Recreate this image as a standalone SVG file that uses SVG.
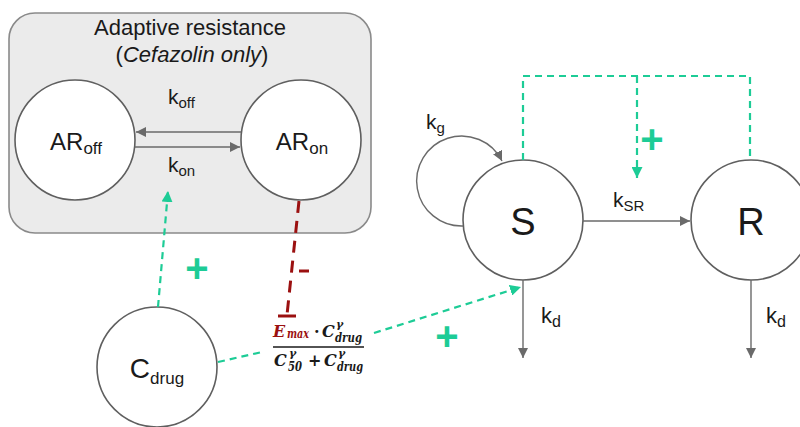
<svg xmlns="http://www.w3.org/2000/svg" width="800" height="427" viewBox="0 0 800 427">
  <style>
    .lbl { font-family: "Liberation Sans", Arial, sans-serif; fill: #1a1a1a; }
    .node { fill: #ffffff; stroke: #5f5f5f; stroke-width: 1.6; }
    .flow { fill: none; stroke: #6a6a6a; stroke-width: 1.4; }
    .act { fill: none; stroke: #1dcc96; stroke-width: 2.2; stroke-dasharray: 7 5; }
    .inh { fill: none; stroke: #9b1010; stroke-width: 3; stroke-dasharray: 12 8; }
    .plus { font-family: "Liberation Sans", Arial, sans-serif; font-weight: bold; font-size: 40px; fill: #1dcc96; }
    .math { font-family: "DejaVu Serif", "Liberation Serif", serif; font-weight: bold; font-style: italic; fill: #1a1a1a; }
  </style>
  <defs>
    <marker id="grayHead" viewBox="0 0 10 10" refX="10" refY="5" markerWidth="10" markerHeight="10" markerUnits="userSpaceOnUse" orient="auto">
      <path d="M0,0 L10,5 L0,10 z" fill="#6a6a6a"/>
    </marker>
    <marker id="greenHead" viewBox="0 0 10 10" refX="10" refY="5" markerWidth="11" markerHeight="11" markerUnits="userSpaceOnUse" orient="auto">
      <path d="M0,0 L10,5 L0,10 z" fill="#1dcc96"/>
    </marker>
  </defs>

  <!-- adaptive resistance compartment -->
  <g id="ar-box">
    <rect x="9" y="13" width="362" height="220" rx="26" ry="26" fill="#ebebeb" stroke="#8a8a8a" stroke-width="1.6"/>
    <text class="lbl" x="190" y="35" font-size="22" text-anchor="middle">Adaptive resistance</text>
    <text class="lbl" x="192" y="62" font-size="22" text-anchor="middle">(<tspan font-style="italic">Cefazolin only</tspan>)</text>
  </g>

  <g id="ar-off">
    <circle class="node" cx="75" cy="140" r="60"/>
    <text class="lbl" x="76" y="150" font-size="24" text-anchor="middle">AR<tspan font-size="17" dy="4">off</tspan></text>
  </g>

  <g id="ar-on">
    <circle class="node" cx="301" cy="140" r="60"/>
    <text class="lbl" x="302" y="150" font-size="24" text-anchor="middle">AR<tspan font-size="17" dy="4">on</tspan></text>
  </g>

  <g id="c-drug">
    <circle class="node" cx="157" cy="367" r="60"/>
    <text class="lbl" x="157" y="378" font-size="28" text-anchor="middle">C<tspan font-size="17" dy="6">drug</tspan></text>
  </g>

  <g id="s">
    <circle class="node" cx="523" cy="220" r="60"/>
    <text class="lbl" x="523" y="235" font-size="38" text-anchor="middle">S</text>
  </g>

  <g id="r">
    <circle class="node" cx="751" cy="220" r="60"/>
    <text class="lbl" x="751" y="235" font-size="38" text-anchor="middle">R</text>
  </g>

  <!-- drug effect term: Emax·C^γ / (C50^γ + C^γ) -->
  <g id="effect">
    <rect x="263" y="320" width="110" height="58" fill="#ffffff"/>
    <text class="math" x="273" y="337" font-size="16"><tspan fill="#9b1010">E<tspan x="287" dy="1" font-size="12" textLength="22" lengthAdjust="spacingAndGlyphs">max</tspan></tspan><tspan x="314" dy="-1" font-style="normal">·</tspan><tspan x="322">C</tspan><tspan x="336" dy="-9" font-size="11">γ</tspan><tspan x="335" dy="14" font-size="12" textLength="27" lengthAdjust="spacingAndGlyphs">drug</tspan></text>
    <line x1="273" y1="347" x2="364" y2="347" stroke="#1a1a1a" stroke-width="1.3"/>
    <text class="math" x="274" y="366" font-size="16">C<tspan x="289" dy="-9" font-size="11">γ</tspan><tspan x="288" dy="14" font-size="12" textLength="14" lengthAdjust="spacingAndGlyphs">50</tspan><tspan x="308" dy="-5" font-style="normal">+</tspan><tspan x="324">C</tspan><tspan x="338" dy="-9" font-size="11">γ</tspan><tspan x="337" dy="14" font-size="12" textLength="26" lengthAdjust="spacingAndGlyphs">drug</tspan></text>
  </g>

  <g id="connectors">
    <!-- AR switching -->
    <line class="flow" x1="241" y1="132" x2="136" y2="132" marker-end="url(#grayHead)"/>
    <line class="flow" x1="135" y1="147" x2="240" y2="147" marker-end="url(#grayHead)"/>
    <text class="lbl" x="168" y="104" font-size="21">k<tspan font-size="15" dy="4">off</tspan></text>
    <text class="lbl" x="168" y="172" font-size="21">k<tspan font-size="15" dy="4">on</tspan></text>

    <!-- growth loop -->
    <path class="flow" d="M463,226 A45,45 0 1 1 502,161" marker-end="url(#grayHead)"/>
    <text class="lbl" x="426" y="129" font-size="21">k<tspan font-size="15" dy="4">g</tspan></text>

    <!-- S to R -->
    <line class="flow" x1="583" y1="221" x2="690" y2="221" marker-end="url(#grayHead)"/>
    <text class="lbl" x="613" y="207" font-size="21">k<tspan font-size="15" dy="4">SR</tspan></text>

    <!-- death -->
    <line class="flow" x1="523" y1="280" x2="523" y2="358" marker-end="url(#grayHead)"/>
    <text class="lbl" x="541" y="323" font-size="22">k<tspan font-size="16" dy="4">d</tspan></text>
    <line class="flow" x1="751" y1="280" x2="751" y2="358" marker-end="url(#grayHead)"/>
    <text class="lbl" x="766" y="323" font-size="22">k<tspan font-size="16" dy="4">d</tspan></text>

    <!-- drug activates AR -->
    <line class="act" x1="158" y1="307" x2="168" y2="191" marker-end="url(#greenHead)"/>
    <text class="plus" x="197" y="282" text-anchor="middle">+</text>

    <!-- drug kills S -->
    <line class="act" x1="218" y1="362" x2="262" y2="352"/>
    <line class="act" x1="374" y1="333" x2="521" y2="287" marker-end="url(#greenHead)"/>
    <text class="plus" x="447" y="350" text-anchor="middle">+</text>

    <!-- AR inhibits effect -->
    <line class="inh" x1="299" y1="201" x2="287" y2="315"/>
    <line x1="278" y1="316" x2="296" y2="316" stroke="#9b1010" stroke-width="3"/>
    <line x1="299" y1="271" x2="309" y2="271" stroke="#9b1010" stroke-width="3"/>

    <!-- population feedback on transfer -->
    <path class="act" d="M523,160 V76 H750 V160"/>
    <line class="act" x1="637" y1="76" x2="637" y2="178" marker-end="url(#greenHead)"/>
    <text class="plus" x="652" y="153" text-anchor="middle">+</text>
  </g>
</svg>
